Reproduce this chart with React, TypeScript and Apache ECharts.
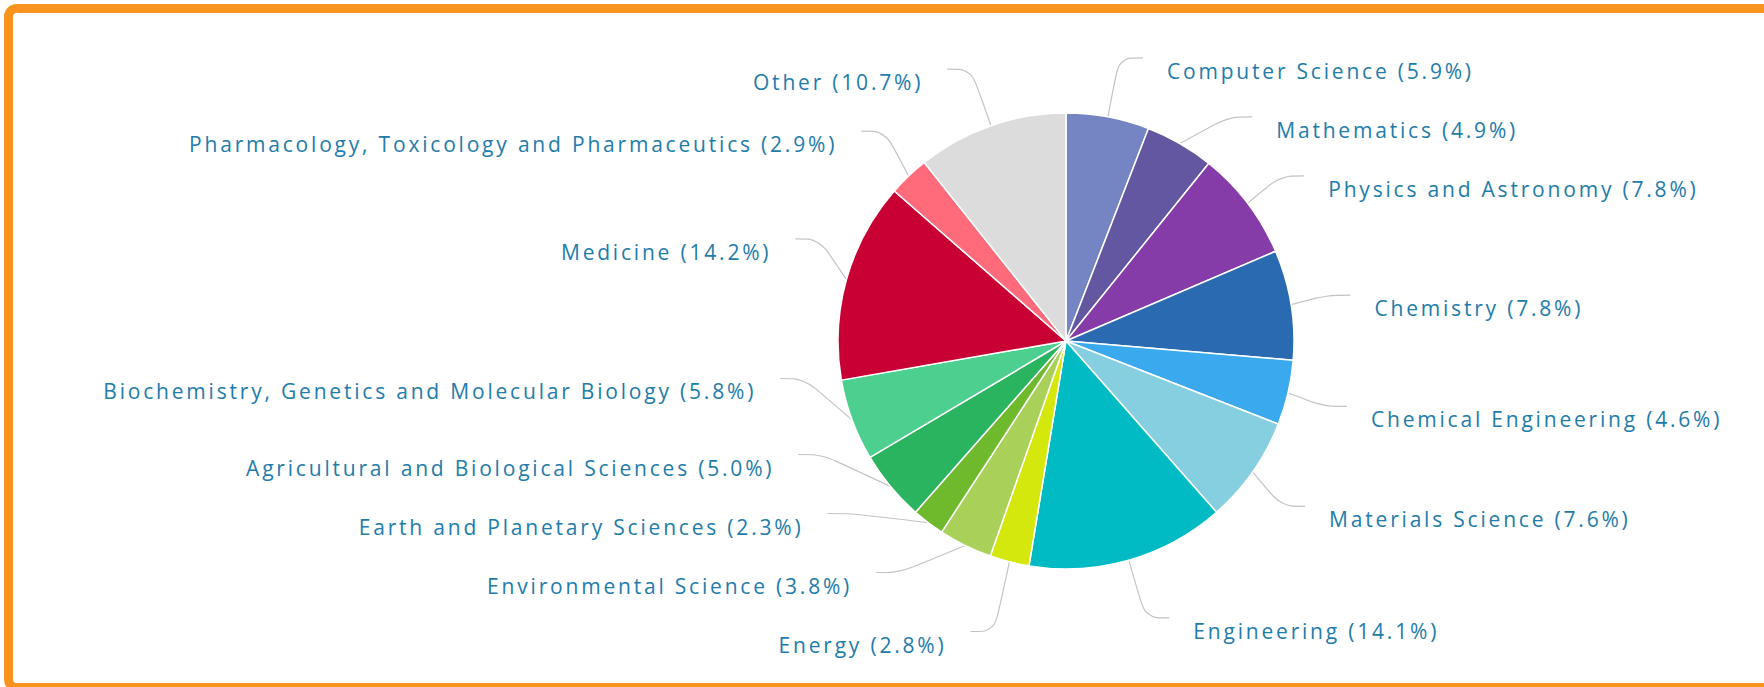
import React, { useEffect, useRef } from "react";
import * as echarts from "echarts";

const categories = [
  "Computer Science",
  "Mathematics",
  "Physics and Astronomy",
  "Chemistry",
  "Chemical Engineering",
  "Materials Science",
  "Engineering",
  "Energy",
  "Environmental Science",
  "Earth and Planetary Sciences",
  "Agricultural and Biological Sciences",
  "Biochemistry, Genetics and Molecular Biology",
  "Medicine",
  "Pharmacology, Toxicology and Pharmaceutics",
  "Other",
];
const shares = [5.9, 4.9, 7.8, 7.8, 4.6, 7.6, 14.1, 2.8, 3.8, 2.3, 5.0, 5.8, 14.2, 2.9, 10.7];
const sliceColors = [
  "#7584c2",
  "#6457a1",
  "#863ca8",
  "#2a6ab1",
  "#3aa9ee",
  "#86cfe0",
  "#00bbc4",
  "#d5e80d",
  "#a9d15a",
  "#6fba2c",
  "#2ab45f",
  "#4ccf8f",
  "#c90033",
  "#ff6b7b",
  "#dcdcdc",
];

const LETTER_SPACING = 2.8;

export default function App() {
  const ref = useRef<HTMLDivElement>(null);
  useEffect(() => {
    if (!ref.current) return;
    const chart = echarts.init(ref.current, null, { renderer: "svg" });
    const data = categories.map((name, i) => ({
      name,
      value: shares[i],
      itemStyle: { color: sliceColors[i] },
    }));
    chart.setOption({
      animation: false,
      graphic: [
        {
          type: "rect",
          silent: true,
          z: -10,
          shape: { x: 8.5, y: 8.5, width: 1800, height: 679, r: 8 },
          style: { fill: "none", stroke: "#f7931e", lineWidth: 9 },
        },
      ],
      series: [
        {
          type: "pie",
          left: 0,
          top: 0,
          right: 0,
          bottom: 26,
          center: [1066, 341],
          radius: 228,
          startAngle: 90,
          clockwise: true,
          avoidLabelOverlap: true,
          data,
          itemStyle: { borderColor: "#ffffff", borderWidth: 1.5 },
          emphasis: { disabled: true },
          label: {
            show: true,
            position: "outside",
            color: "#227cab",
            fontFamily: "Open Sans",
            fontSize: 21,
            lineHeight: 26,
            distanceToLabelLine: 24,
            minMargin: 7,
            formatter: (p: any) => `\n${p.name} (${Number(p.value).toFixed(1)}%)`,
          },
          labelLine: {
            show: true,
            length: 60,
            length2: 24,
            smooth: 0.35,
            lineStyle: { color: "#c4c4c4", width: 1.2 },
          },
        },
      ],
    });
    const applySpacing = () => {
      ref.current?.querySelectorAll("text").forEach((t) => {
        t.setAttribute("letter-spacing", String(LETTER_SPACING));
      });
    };
    applySpacing();
    chart.on("finished", applySpacing);
    return () => {
      chart.dispose();
    };
  }, []);
  return (
    <div
      ref={ref}
      style={{ position: "fixed", left: 0, top: 0, width: 1764, height: 687, background: "#ffffff" }}
    />
  );
}
